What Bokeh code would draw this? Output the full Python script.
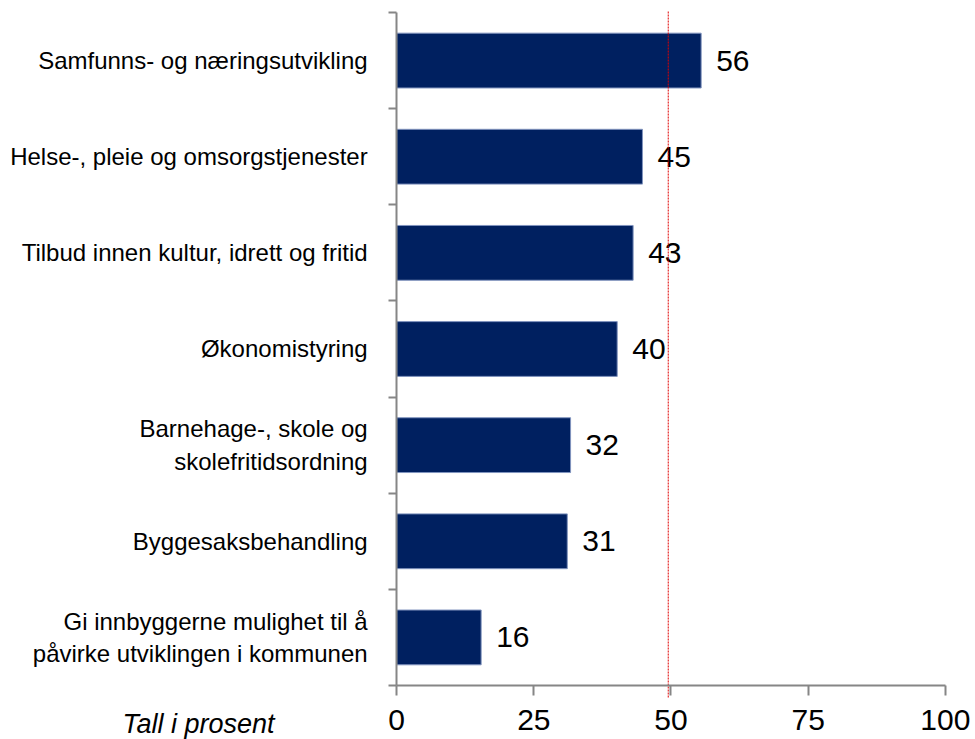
import numpy as np
from bokeh.plotting import figure
from bokeh.models import ColumnDataSource, FixedTicker, Label, Range1d
from bokeh.core.properties import value
from bokeh.embed import file_html
from bokeh.resources import INLINE

categories = [
    "Samfunns- og næringsutvikling",
    "Helse-, pleie og omsorgstjenester",
    "Tilbud innen kultur, idrett og fritid",
    "Økonomistyring",
    "Barnehage-, skole og\nskolefritidsordning",
    "Byggesaksbehandling",
    "Gi innbyggerne mulighet til å\npåvirke utviklingen i kommunen",
]
values = [55.5, 44.8, 43.1, 40.2, 31.7, 31.1, 15.4]
value_labels = ["56", "45", "43", "40", "32", "31", "16"]
x_ticks = [0, 25, 50, 75, 100]
reference_line = 49.5
axis_note = "Tall i prosent"

n = len(categories)
ypos = [n - i - 0.5 for i in range(n)]
src = ColumnDataSource(dict(y=ypos, v=values, lab=value_labels))

FONT = "Liberation Sans"
GRAY = "#868686"

# frame covers the whole canvas; axes are pinned at x=0 / y=0
p = figure(width=975, height=739, output_backend="svg", toolbar_location=None,
           x_range=Range1d(-72.2, 105.5), y_range=Range1d(-0.5617, 7.1248),
           min_border_left=0, min_border_right=0, min_border_top=0,
           min_border_bottom=0)
p.outline_line_color = None
p.xgrid.visible = False
p.ygrid.visible = False

p.hbar(y="y", right="v", left=0, height=0.57, source=src,
       fill_color="#002060", line_color="#8194BE", line_width=1)

p.text(x="v", y="y", text="lab", source=src, x_offset=15,
       text_baseline="middle", text_align="left",
       text_font=value(FONT), text_font_size="30px", text_color="#000000")

p.segment(x0=[reference_line], x1=[reference_line], y0=[-0.125], y1=[n + 0.02],
          line_color="#E00000", line_width=1, line_dash="2 1")

# x axis
xa = p.xaxis[0]
xa.fixed_location = 0
xa.bounds = (0, 100)
xa.ticker = FixedTicker(ticks=x_ticks)
xa.major_tick_out = 10
xa.major_tick_in = 0
xa.minor_tick_out = 0
xa.minor_tick_in = 0
xa.axis_line_color = GRAY
xa.axis_line_width = 2
xa.major_tick_line_color = GRAY
xa.major_tick_line_width = 2
xa.major_label_text_font = FONT
xa.major_label_text_font_size = "30px"
xa.major_label_text_color = "#000000"
xa.major_label_standoff = 15

# y axis
ya = p.yaxis[0]
ya.fixed_location = 0
ya.bounds = (0, n)
ya.ticker = FixedTicker(ticks=ypos, minor_ticks=list(range(n + 1)))
ya.major_tick_out = 0
ya.major_tick_in = 0
ya.minor_tick_out = 8
ya.minor_tick_in = 0
ya.minor_tick_line_color = GRAY
ya.minor_tick_line_width = 2
ya.axis_line_color = GRAY
ya.axis_line_width = 2
ya.major_label_overrides = {float(y): c for y, c in zip(ypos, categories)}
ya.major_label_text_font = FONT
ya.major_label_text_font_size = "24px"
ya.major_label_text_color = "#000000"
ya.major_label_standoff = 21

p.add_layout(Label(x=-36.1, y=-0.40, x_units="data", y_units="data",
                   text=axis_note, text_align="center", text_baseline="alphabetic",
                   text_font=FONT, text_font_size="27px",
                   text_font_style="italic", text_color="#000000"))

open("out.html", "w").write(file_html(p, INLINE))
